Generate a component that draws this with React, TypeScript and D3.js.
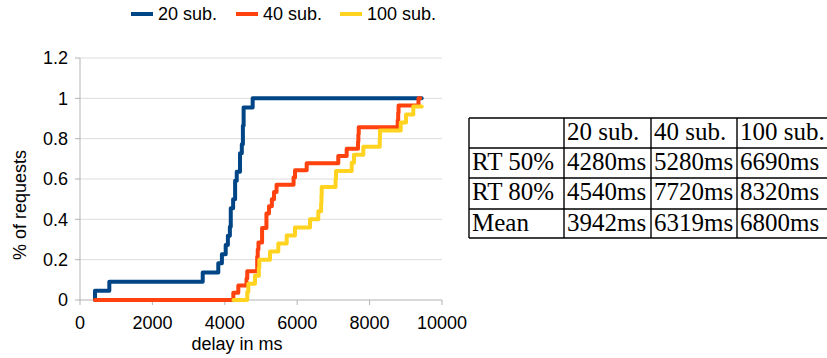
import React from "react";
import * as d3 from "d3";

// ---- data ----
const seriesNames = ["20 sub.", "40 sub.", "100 sub."];
const seriesColors = ["#004586", "#ff420e", "#ffd320"];

const sub20Samples = 22;
const sub20Delay = [414, 414, 810, 3390, 3820, 3920, 4025, 4085, 4140, 4165, 4230, 4285, 4330, 4420, 4470, 4500, 4520, 4770, 9440];
const sub20Count = [0, 1, 2, 3, 4, 5, 6, 7, 8, 10, 11, 13, 14, 16, 17, 19, 21, 22, 22];

const sub40Samples = 28;
const sub40Delay = [414, 4235, 4373, 4600, 4620, 4895, 4910, 4930, 5030, 5150, 5220, 5300, 5360, 5430, 5900, 5940, 6262, 7135, 7367, 7680, 7690, 7700, 8776, 8790, 8800, 9350, 9400];
const sub40Count = [0, 1, 2, 3, 4, 6, 7, 8, 10, 12, 13, 14, 15, 16, 17, 18, 19, 20, 21, 22, 23, 24, 25, 26, 27, 28, 28];

const sub100Samples = 25;
const sub100Delay = [4240, 4620, 4650, 4834, 4940, 4953, 5249, 5478, 5710, 5939, 6354, 6583, 6660, 6670, 6677, 7060, 7072, 7506, 7569, 7826, 8280, 8287, 8859, 9006, 9207, 9440];
const sub100Count = [0, 1, 2, 3, 4, 5, 6, 7, 8, 9, 10, 11, 12, 13, 14, 15, 16, 17, 18, 19, 20, 21, 22, 23, 24, 24];

const xTicks = [0, 2000, 4000, 6000, 8000, 10000];
const yTicks = [0, 0.2, 0.4, 0.6, 0.8, 1, 1.2];

const tableHeader = ["", "20 sub.", "40 sub.", "100 sub."];
const tableRowLabels = ["RT 50%", "RT 80%", "Mean"];
const rt50 = ["4280ms", "5280ms", "6690ms"];
const rt80 = ["4540ms", "7720ms", "8320ms"];
const meanDelay = ["3942ms", "6319ms", "6800ms"];

export default function App() {
  const W = 827, H = 358;
  const x = d3.scaleLinear().domain([0, 10000]).range([80, 442]);
  const y = d3.scaleLinear().domain([0, 1.2]).range([300, 58]);

  const series = [
    { d: sub20Delay, c: sub20Count, n: sub20Samples },
    { d: sub40Delay, c: sub40Count, n: sub40Samples },
    { d: sub100Delay, c: sub100Count, n: sub100Samples },
  ];
  const line = d3
    .line<[number, number]>()
    .x((p) => x(p[0]))
    .y((p) => y(p[1]))
    .curve(d3.curveStepAfter);

  const font = "'Liberation Sans', Arial, sans-serif";
  const serif = "'Liberation Serif', 'Times New Roman', serif";

  const colX = [469, 564, 651, 737, 830];
  const rowY = [118, 148, 178, 209, 238];
  const rows = [tableHeader, [tableRowLabels[0], ...rt50], [tableRowLabels[1], ...rt80], [tableRowLabels[2], ...meanDelay]];

  const legendX = [131, 236, 340];

  return (
    <svg
      width={W}
      height={H}
      style={{ position: "absolute", left: 0, top: 0, background: "#fff" }}
    >
      {/* grid */}
      {yTicks.map((t) => (
        <line key={"g" + t} x1={x(0)} x2={x(10000)} y1={y(t)} y2={y(t)} stroke={t === 0 ? "#b3b3b3" : "#dcdcdc"} strokeWidth={1} />
      ))}
      <line x1={x(0)} x2={x(0)} y1={y(0)} y2={y(1.2)} stroke="#b3b3b3" />
      {yTicks.map((t) => (
        <line key={"yt" + t} x1={x(0) - 5} x2={x(0)} y1={y(t)} y2={y(t)} stroke="#b3b3b3" />
      ))}
      {xTicks.map((t) => (
        <line key={"xt" + t} x1={x(t)} x2={x(t)} y1={y(0)} y2={y(0) + 5} stroke="#b3b3b3" />
      ))}
      {yTicks.map((t) => (
        <text key={"yl" + t} x={x(0) - 12} y={y(t)} dy="0.35em" textAnchor="end" fontFamily={font} fontSize={18} fill="#000">
          {String(t)}
        </text>
      ))}
      {xTicks.map((t) => (
        <text key={"xl" + t} x={x(t)} y={y(0) + 29} textAnchor="middle" fontFamily={font} fontSize={18} fill="#000">
          {String(t)}
        </text>
      ))}
      <text x={237} y={350} textAnchor="middle" fontFamily={font} fontSize={18}>
        delay in ms
      </text>
      <text transform="translate(26,205) rotate(-90)" textAnchor="middle" fontFamily={font} fontSize={18}>
        % of requests
      </text>

      {/* lines */}
      {series.map((s, i) => {
        const pts: [number, number][] = s.d.map((dv, k) => [dv, s.c[k] / s.n]);
        return (
          <path key={"s" + i} d={line(pts) || ""} fill="none" stroke={seriesColors[i]} strokeWidth={4} strokeLinejoin="round" strokeLinecap="round" />
        );
      })}

      {/* legend */}
      {seriesNames.map((nm, i) => (
        <g key={"lg" + i}>
          <line x1={legendX[i]} x2={legendX[i] + 22} y1={14} y2={14} stroke={seriesColors[i]} strokeWidth={4} />
          <text x={legendX[i] + 27} y={20} fontFamily={font} fontSize={18}>
            {nm}
          </text>
        </g>
      ))}

      {/* table */}
      {rowY.map((ry, i) => (
        <line key={"tr" + i} x1={colX[0]} x2={colX[4]} y1={ry} y2={ry} stroke="#000" strokeWidth={1.4} />
      ))}
      {colX.map((cx, i) => (
        <line key={"tc" + i} x1={cx} x2={cx} y1={rowY[0]} y2={rowY[4]} stroke="#000" strokeWidth={1.4} />
      ))}
      {rows.map((r, ri) =>
        r.map((cell, ci) => (
          <text key={"c" + ri + "_" + ci} x={colX[ci] + 3} y={rowY[ri] + 22} fontFamily={serif} fontSize={25} fill="#000">
            {cell}
          </text>
        ))
      )}
    </svg>
  );
}
